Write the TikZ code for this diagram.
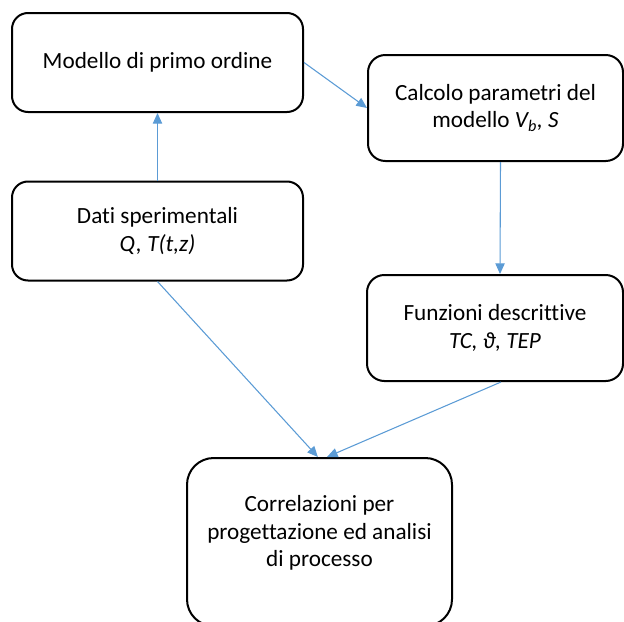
\documentclass[tikz,border=0pt]{standalone}
\usepackage{fontspec}
\setmainfont{Carlito}[Ligatures={NoCommon}]
\usepackage{tikz}
\usetikzlibrary{shapes,arrows,arrows.meta,positioning}
\definecolor{linkblue}{HTML}{5B9BD5}
\tikzset{
	box/.style={draw=black, line width=1.5pt, align=center, inner sep=0pt,
		font=\fontsize{17.4}{20.5}\selectfont},
	link/.style={color=linkblue, line width=0.8pt, -{Triangle[length=8pt,width=7pt]}}
}

\begin{document}
\begin{tikzpicture}[x=0.75pt,y=-0.75pt]
	\useasboundingbox (0,0) rectangle (624,621);
	\node[box, rounded corners=12pt, minimum width=291*0.75pt, minimum height=99*0.75pt] (modello) at (157.5,62.5) {Modello di primo ordine};
	\node[box, rounded corners=13pt, minimum width=255*0.75pt, minimum height=106*0.75pt] (calcolo) at (495.5,108) {Calcolo parametri del\\modello \textit{V\textsubscript{b}, S}};
	\node[box, rounded corners=12pt, minimum width=291*0.75pt, minimum height=99*0.75pt] (dati) at (157.5,231) {Dati sperimentali\\\textit{Q, T(t,z)}};
	\node[box, rounded corners=13pt, minimum width=256*0.75pt, minimum height=106*0.75pt] (funzioni) at (495,328) {Funzioni descrittive\\\textit{TC, ϑ, TEP}};
	\node[box, rounded corners=20pt, minimum width=265*0.75pt, minimum height=168*0.75pt, anchor=north] (corr) at (319.5,457) {};
	\node[box, draw=none] (corrtext) at (319.5,533) {Correlazioni per\\progettazione ed analisi\\di processo};
	
	\draw[link] (dati.north) -- (modello.south);
	\draw[link] (modello.east) -- (calcolo.west);
	\draw[link] ([xshift=3.75pt]calcolo.south) -- ([xshift=3.75pt]funzioni.north);
	\draw[link] (dati.south) -- ([xshift=-1.2pt]corr.north);
	\draw[link] ([xshift=4.5pt]funzioni.south) -- ([xshift=5.6pt]corr.north);
\end{tikzpicture}
\end{document}
